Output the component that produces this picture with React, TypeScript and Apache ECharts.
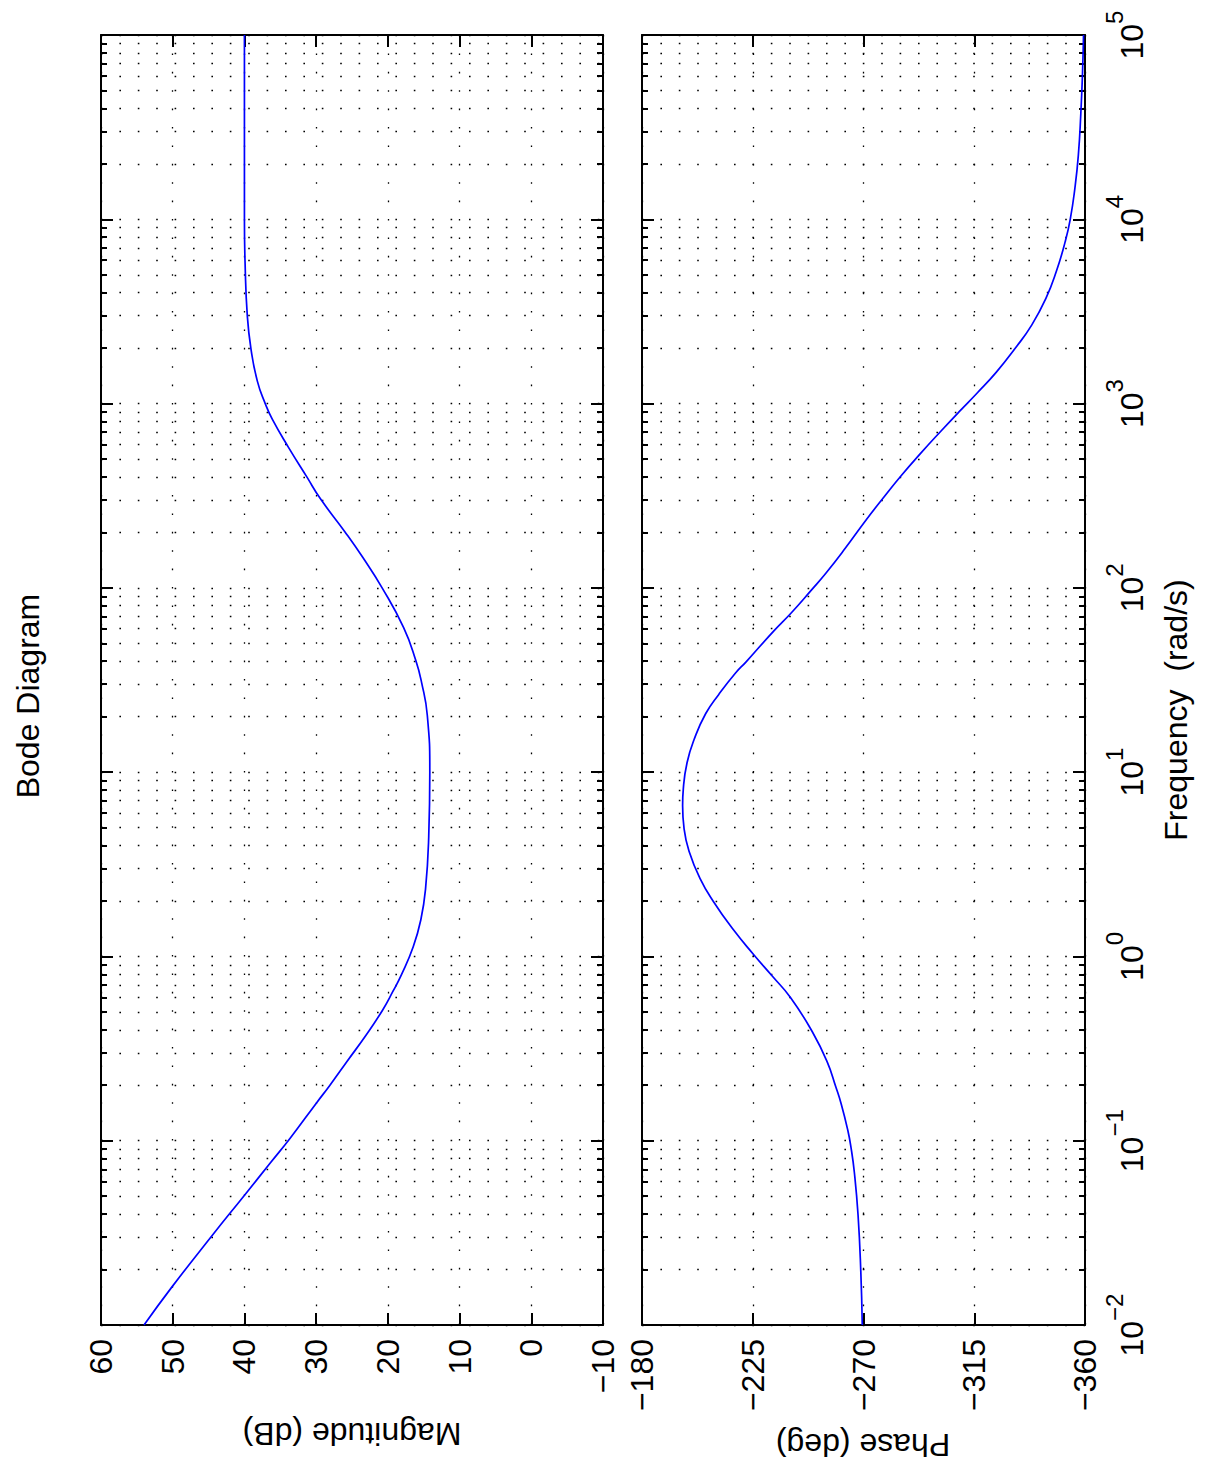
import React, { useEffect, useRef } from 'react';
import * as echarts from 'echarts';

// Frequencies in rad/s
const magFreq = [0.01, 0.0161, 0.0306, 0.05, 0.0757, 0.1035, 0.1614, 0.1995, 0.2692, 0.3758, 0.514, 0.6457, 0.7962, 1.132, 1.581, 2.312, 4.47, 10, 20.37, 30.69, 40.36, 60.81, 100, 148.3, 201.8, 304.1, 399.9, 582.1, 820.4, 1000, 1324, 1995, 3006, 5623, 10000, 100000];
const magDb = [54.0, 50.1, 44.5, 40.1, 36.4, 33.6, 29.9, 28.1, 25.7, 23.0, 20.7, 19.3, 18.1, 16.45, 15.4, 14.75, 14.3, 14.15, 14.5, 15.3, 16.1, 17.8, 20.8, 23.6, 26.0, 29.4, 31.3, 33.9, 36.1, 37.1, 38.2, 39.1, 39.6, 39.9, 40.0, 40.0];

const phaseFreq = [0.01, 0.0196, 0.0393, 0.067, 0.0923, 0.1143, 0.1574, 0.195, 0.2685, 0.39, 0.597, 0.78, 1.019, 1.403, 1.986, 2.661, 3.664, 4.92, 6.592, 8.166, 11.25, 15.07, 20.8, 26.42, 34.51, 39.81, 58.08, 73.28, 97.5, 120, 163.3, 235, 311.9, 404.6, 537, 714.5, 901.6, 1138, 1476, 2009, 2673, 3741, 5236, 7516, 10000, 14760, 22280, 37410, 62810, 100000];
const phaseDeg = [-269.5, -268.9, -267.8, -266.3, -264.9, -263.6, -261.0, -258.8, -255.2, -249.2, -240.4, -233.0, -225.5, -217.0, -209.0, -203.5, -199.3, -197.1, -196.5, -196.8, -198.3, -201.2, -205.9, -211.2, -218.0, -222.4, -233.4, -240.7, -248.9, -254.7, -262.5, -271.2, -278.4, -285.2, -293.2, -301.7, -308.8, -316.1, -323.9, -331.8, -338.4, -344.2, -348.4, -351.9, -354.0, -355.9, -357.3, -358.3, -359.0, -359.4];

// Axis ranges / tick labels
const freqExpMin = -2;
const freqExpMax = 5;
const magMin = -10;
const magMax = 60;
const magStep = 10;
const phaseMin = -360;
const phaseMax = -180;
const phaseStep = 45;

const FONT = "'Liberation Sans', Arial, Helvetica, sans-serif";
const BLUE = '#0000ff';

function minorPositions(): number[] {
  const out: number[] = [];
  for (let n = freqExpMin; n < freqExpMax; n++) {
    for (let k = 2; k <= 9; k++) out.push(n + Math.log10(k));
  }
  return out;
}

const minus = (v: number) => String(v).replace('-', '\u2212');

export default function App() {
  const ref = useRef<HTMLDivElement>(null);
  useEffect(() => {
    const chart = echarts.init(ref.current!, null, { renderer: 'svg' });
    const minors = minorPositions();
    const dotted = { color: '#000', width: 1.3, type: [1.6, 16.8] as any };
    const frame = { show: true, onZero: false, lineStyle: { color: '#000', width: 2 } };
    const tickStyle = { color: '#000', width: 2 };
    const grids = [
      { left: 101, top: 35, width: 502, height: 1290 },
      { left: 642, top: 35, width: 443, height: 1290 },
    ];

    const xAxes: any[] = [];
    const yAxes: any[] = [];
    grids.forEach((_, gi) => {
      const min = gi === 0 ? magMin : phaseMin;
      const max = gi === 0 ? magMax : phaseMax;
      const interval = gi === 0 ? magStep : phaseStep;
      xAxes.push({
        type: 'value', gridIndex: gi, min, max, interval, inverse: true, position: 'bottom',
        axisLine: frame,
        axisTick: { show: true, inside: true, length: 12, lineStyle: tickStyle },
        axisLabel: {
          show: true, rotate: 90, margin: 14, fontSize: 32, color: '#000', fontFamily: FONT,
          formatter: (v: number) => minus(v),
        },
        splitLine: { show: true, lineStyle: dotted },
      });
      xAxes.push({
        type: 'value', gridIndex: gi, min, max, interval, inverse: true, position: 'top',
        axisLine: frame,
        axisTick: { show: true, inside: true, length: 12, lineStyle: tickStyle },
        axisLabel: { show: false },
        splitLine: { show: false },
      });
      (['left', 'right'] as const).forEach((pos) => {
        const showLabel = gi === 1 && pos === 'right';
        yAxes.push({
          type: 'value', gridIndex: gi, min: freqExpMin, max: freqExpMax, interval: 1, position: pos,
          axisLine: frame,
          axisTick: { show: true, inside: true, length: 12, lineStyle: tickStyle },
          axisLabel: showLabel
            ? {
                show: true, rotate: 90, margin: 31,
                formatter: (v: number) => `{b|10}{s|${minus(Math.round(v))}}`,
                rich: {
                  b: { fontSize: 32, fontFamily: FONT, color: '#000', lineHeight: 32, verticalAlign: 'bottom' },
                  s: { fontSize: 24, fontFamily: FONT, color: '#000', lineHeight: 24, verticalAlign: 'bottom', padding: [0, 0, 22, 0] },
                },
              }
            : { show: false },
          splitLine: { show: pos === 'left', lineStyle: dotted },
        });
        yAxes.push({
          type: 'value', gridIndex: gi, min: freqExpMin, max: freqExpMax, interval: 1, position: pos,
          axisLine: { show: false, onZero: false },
          axisTick: { show: true, inside: true, length: 6, customValues: minors, lineStyle: tickStyle },
          axisLabel: { show: false },
          splitLine: { show: pos === 'left', lineStyle: dotted },
        });
      });
    });

    const textStyle = (text: string) => ({ text, fontSize: 32, fontFamily: FONT, fill: '#000', align: 'center', verticalAlign: 'middle' });

    chart.setOption({
      animation: false,
      backgroundColor: '#fff',
      grid: grids,
      xAxis: xAxes,
      yAxis: yAxes,
      series: [
        {
          type: 'line', xAxisIndex: 0, yAxisIndex: 0,
          data: magFreq.map((f, i) => [magDb[i], Math.log10(f)]),
          symbol: 'none', smooth: 0.5, lineStyle: { color: BLUE, width: 1.7 }, z: 5,
        },
        {
          type: 'line', xAxisIndex: 2, yAxisIndex: 4,
          data: phaseFreq.map((f, i) => [phaseDeg[i], Math.log10(f)]),
          symbol: 'none', smooth: 0.5, lineStyle: { color: BLUE, width: 1.7 }, z: 5,
        },
      ],
      graphic: [
        { type: 'text', x: 28, y: 696, rotation: Math.PI / 2, style: textStyle('Bode Diagram') },
        { type: 'text', x: 352, y: 1434, rotation: Math.PI, style: textStyle('Magnitude (dB)') },
        { type: 'text', x: 863, y: 1445, rotation: Math.PI, style: textStyle('Phase (deg)') },
        { type: 'text', x: 1176, y: 710, rotation: Math.PI / 2, style: textStyle('Frequency  (rad/s)') },
      ],
    });
    return () => chart.dispose();
  }, []);
  return (
    <div
      ref={ref}
      style={{ position: 'absolute', left: 0, top: 0, width: 1206, height: 1463, background: '#fff' }}
    />
  );
}
